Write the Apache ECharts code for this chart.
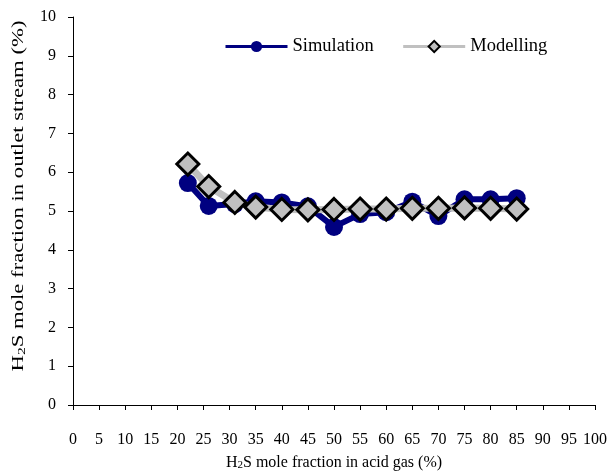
<!DOCTYPE html>
<html>
<head>
<meta charset="utf-8">
<script src="https://cdn.jsdelivr.net/npm/echarts@6/dist/echarts.min.js"></script>
<style>
  html, body { margin: 0; padding: 0; background: #fff; }
  #chart { width: 613px; height: 471px; }
</style>
</head>
<body>
<div id="chart"></div>
<script>
// H2S content of acid gas (%)
const acidGasH2S = [22, 26, 31, 35, 40, 45, 50, 55, 60, 65, 70, 75, 80, 85];
// H2S in outlet stream (%)
const simulation = [5.72, 5.13, 5.18, 5.25, 5.22, 5.12, 4.59, 4.92, 4.97, 5.24, 4.87, 5.3, 5.3, 5.33];
const modelling  = [6.21, 5.63, 5.22, 5.1, 5.04, 5.03, 5.04, 5.05, 5.05, 5.07, 5.07, 5.08, 5.07, 5.05];
const xTicks = { min: 0, max: 100, step: 5 };
const yTicks = { min: 0, max: 10, step: 1 };

const font = 'Liberation Serif';
const pairs = (xs, ys) => xs.map((x, i) => [x, ys[i]]);
const rich = {
  t: { fontFamily: font, fontSize: 16, color: '#000' },
  s: { fontFamily: font, fontSize: 11, color: '#000', verticalAlign: 'bottom', padding: [6, 0, 0, 0] }
};

const chart = echarts.init(document.getElementById('chart'), null, { renderer: 'canvas' });
chart.setOption({
  animation: false,
  backgroundColor: '#fff',
  grid: { left: 73, right: 18, top: 17, bottom: 66, outerBoundsMode: 'none', containLabel: false },
  legend: {
    top: 37,
    left: 224,
    padding: 0,
    itemGap: 28,
    itemWidth: 62,
    itemHeight: 14,
    lineStyle: { width: 3 },
    textStyle: { fontFamily: font, fontSize: 18.5, color: '#000' },
    data: ['Simulation', 'Modelling']
  },
  // vertical axis title, stretched along its reading direction
  graphic: [{
    type: 'text',
    x: 19,
    y: 196,
    rotation: Math.PI / 2,
    scaleX: 1.42,
    style: {
      text: '{t|H}{s|2}{t|S mole fraction in outlet stream (%)}',
      rich,
      align: 'center',
      verticalAlign: 'middle'
    }
  }],
  xAxis: {
    type: 'value',
    min: xTicks.min, max: xTicks.max, interval: xTicks.step,
    name: '{t|H}{s|2}{t|S mole fraction in acid gas (%)}',
    nameLocation: 'middle',
    nameGap: 49,
    nameTextStyle: { rich },
    axisLine: { onZero: false, lineStyle: { color: '#000', width: 1 } },
    axisTick: { show: true, length: 5, lineStyle: { color: '#000' } },
    axisLabel: { margin: 27, fontFamily: font, fontSize: 16, color: '#000' },
    splitLine: { show: false }
  },
  yAxis: {
    type: 'value',
    min: yTicks.min, max: yTicks.max, interval: yTicks.step,
    axisLine: { show: true, lineStyle: { color: '#000', width: 1 } },
    axisTick: { show: true, length: 5, lineStyle: { color: '#000' } },
    axisLabel: { margin: 17, fontFamily: font, fontSize: 16, color: '#000' },
    splitLine: { show: false }
  },
  series: [
    {
      name: 'Simulation',
      type: 'line',
      data: pairs(acidGasH2S, simulation),
      symbol: 'circle',
      symbolSize: 18,
      lineStyle: { color: '#000080', width: 6 },
      itemStyle: { color: '#000080', borderWidth: 0 },
      z: 2
    },
    {
      name: 'Modelling',
      type: 'line',
      data: pairs(acidGasH2S, modelling),
      symbol: 'diamond',
      symbolSize: 22,
      lineStyle: { color: '#c0c0c0', width: 7 },
      itemStyle: { color: '#c0c0c0', borderColor: '#000', borderWidth: 3 },
      z: 3
    }
  ]
});
</script>
</body>
</html>
